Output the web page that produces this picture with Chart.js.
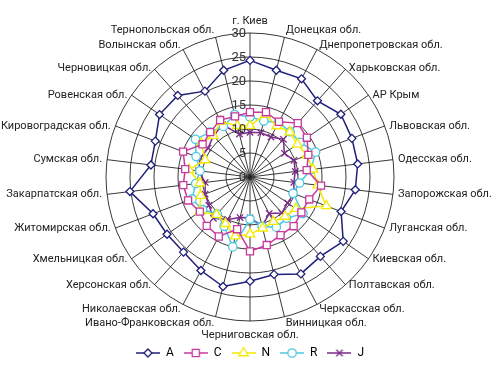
<!DOCTYPE html>
<html>
<head>
<meta charset="utf-8">
<script src="https://cdn.jsdelivr.net/npm/chart.js@4.4.0/dist/chart.umd.min.js"></script>
<style>
  html, body { margin: 0; padding: 0; background: #fff; }
  #wrap { width: 500px; height: 373px; }
</style>
</head>
<body>
<div id="wrap"><canvas id="myChart"></canvas></div>
<script>
// regions, clockwise from the top
var regions = ['г. Киев', 'Донецкая обл.', 'Днепропетровская обл.', 'Харьковская обл.', 'АР Крым',
  'Львовская обл.', 'Одесская обл.', 'Запорожская обл.', 'Луганская обл.', 'Киевская обл.',
  'Полтавская обл.', 'Черкасская обл.', 'Винницкая обл.', 'Черниговская обл.', 'Ивано-Франковская обл.',
  'Николаевская обл.', 'Херсонская обл.', 'Хмельницкая обл.', 'Житомирская обл.', 'Закарпатская обл.',
  'Сумская обл.', 'Кировоградская обл.', 'Ровенская обл.', 'Черновицкая обл.', 'Волынская обл.',
  'Тернопольская обл.'];

var seriesA = [24.3, 22.9, 23.1, 21.2, 23.0, 22.7, 22.6, 22.1, 20.3, 23.6, 22.1, 22.8, 20.9,
  21.7, 23.5, 22.0, 20.9, 21.0, 21.6, 25.2, 20.8, 21.1, 22.9, 22.7, 20.2, 22.9];
var seriesC = [13.5, 13.9, 13.0, 15.0, 14.4, 13.0, 11.9, 14.9, 13.2, 13.0, 13.7, 13.7, 14.6,
  15.5, 11.2, 14.0, 13.6, 12.7, 13.8, 14.0, 13.6, 14.9, 12.0, 12.5, 13.4, 13.0];
var seriesN = [10.7, 13.4, 12.0, 12.5, 12.0, 12.7, 13.2, 14.2, 17.0, 11.6, 11.0, 10.5, 11.0,
  11.9, 12.7, 11.0, 10.5, 12.7, 11.0, 10.5, 12.8, 10.0, 12.3, 11.5, 13.1, 11.0];
var seriesR = [12.5, 12.0, 12.8, 12.6, 12.7, 14.6, 12.8, 10.4, 9.6, 13.4, 11.5, 11.8, 10.6,
  8.8, 15.0, 11.6, 10.3, 12.0, 12.9, 11.4, 10.5, 12.0, 13.8, 12.5, 11.9, 13.4];
var seriesJ = [9.3, 9.5, 9.4, 10.5, 8.7, 9.8, 9.5, 9.2, 9.8, 9.5, 10.0, 8.6, 10.5,
  8.5, 8.7, 10.0, 11.5, 10.4, 10.0, 9.4, 10.8, 11.1, 10.6, 11.5, 12.3, 9.2];

var seriesNames = ['A', 'C', 'N', 'R', 'J'];
var tickValues = [0, 5, 10, 15, 20, 25, 30];

var colors = ['#1f1f78', '#c8399e', '#f2ea00', '#4cc8e0', '#7a2a88'];
var shapes = ['rectRot', 'rect', 'triangle', 'circle', 'crossRot'];
var sizes = [4, 5, 5.5, 4.2, 4.5];

//small "line + marker" picture for each legend entry
function legendIcon(color, shape, size) {
  var c = document.createElement('canvas');
  c.width = 24; c.height = 14;
  var g = c.getContext('2d');
  g.strokeStyle = color;
  g.lineWidth = 1.5;
  g.beginPath(); g.moveTo(0, 7); g.lineTo(24, 7); g.stroke();
  g.fillStyle = '#fff';
  g.lineWidth = 1.3;
  Chart.helpers.drawPoint(g, {pointStyle: shape, radius: size, rotation: 0, borderWidth: 1.3}, 12, 7);
  return c;
}

var allData = [seriesA, seriesC, seriesN, seriesR, seriesJ];
var datasets = [];
for (var i = 0; i < seriesNames.length; i++) {
  datasets.push({
    label: seriesNames[i],
    data: allData[i],
    fill: false,
    borderColor: colors[i],
    backgroundColor: '#fff',
    borderWidth: 1.5,
    pointStyle: shapes[i],
    pointRadius: sizes[i],
    pointBorderWidth: 1.3,
    pointBackgroundColor: '#fff',
    pointBorderColor: colors[i],
    tension: 0
  });
}

// tick numbers just left of the vertical axis + region names round the outside
var labelPlugin = {
  id: 'radarLabels',
  afterDatasetsDraw: function(chart) {
    var scale = chart.scales.r;
    var g = chart.ctx;
    g.save();
    g.font = '13px Roboto';
    g.fillStyle = '#333';
    g.textAlign = 'right';
    g.textBaseline = 'middle';
    for (var k = 0; k < tickValues.length; k++) {
      var d = scale.getDistanceFromCenterForValue(tickValues[k]);
      g.fillText(String(tickValues[k]), scale.xCenter - 4, scale.yCenter - d + 1);
    }

    g.font = '11px Roboto';
    g.fillStyle = '#222';
    g.textBaseline = 'middle';
    for (var j = 0; j < regions.length; j++) {
      var ang = scale.getIndexAngle(j);
      var p = scale.getPointPosition(j, scale.drawingArea);
      var s = Math.sin(ang), c = Math.cos(ang);
      var x = p.x, y = p.y;
      if (Math.abs(s) < 0.01) {
        g.textAlign = 'center';
        y += c > 0 ? -12 : 14;
      } else {
        g.textAlign = s > 0 ? 'left' : 'right';
        x += (s > 0 ? 1 : -1) * 5 * Math.abs(s);
        var lift = 6.5 * Math.max(0, (Math.abs(c) - 0.72) / 0.25);
        y += c > 0 ? -lift : lift;
      }
      g.fillText(regions[j], x, y);
    }
    g.restore();
  }
};

var ctx = document.getElementById('myChart').getContext('2d');
var chart = new Chart(ctx, {
  type: 'radar',
  data: {
    labels: regions,
    datasets: datasets
  },
  options: {
    responsive: true,
    maintainAspectRatio: false,
    animation: false,
    layout: { padding: { top: 17, bottom: 4, left: 106, right: 106 } },
    scales: {
      r: {
        min: 0,
        max: 30,
        ticks: { stepSize: 5, display: false },
        grid: { circular: true, color: '#222', lineWidth: 0.9 },
        angleLines: { color: '#222', lineWidth: 0.9 },
        pointLabels: { display: false }
      }
    },
    plugins: {
      tooltip: { enabled: false },
      legend: {
        position: 'bottom',
        labels: {
          usePointStyle: true,
          pointStyleWidth: 24,
          padding: 10,
          color: '#222',
          font: { family: 'Roboto', size: 12 },
          generateLabels: function(ch) {
            return ch.data.datasets.map(function(ds, n) {
              return {
                text: ds.label,
                pointStyle: legendIcon(colors[n], shapes[n], sizes[n]),
                datasetIndex: n,
                fillStyle: '#fff',
                strokeStyle: colors[n],
                lineWidth: 0,
                hidden: false
              };
            });
          }
        }
      }
    }
  },
  plugins: [labelPlugin]
});
</script>
</body>
</html>
